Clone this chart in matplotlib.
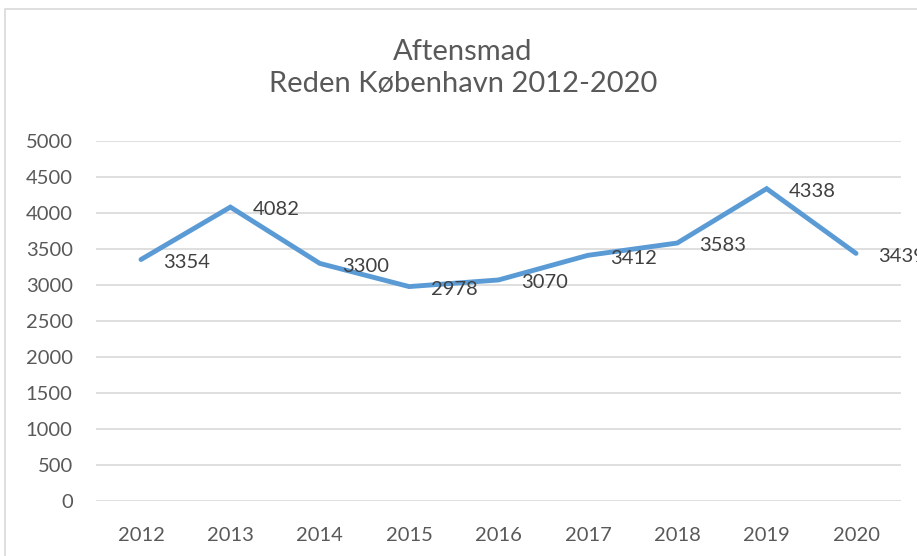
import matplotlib
matplotlib.use("Agg")
import matplotlib.pyplot as plt
from matplotlib.patches import Rectangle

years = ["2012", "2013", "2014", "2015", "2016", "2017", "2018", "2019", "2020"]
meals = [3354, 4082, 3300, 2978, 3070, 3412, 3583, 4338, 3439]
yticks = [0, 500, 1000, 1500, 2000, 2500, 3000, 3500, 4000, 4500, 5000]
title = "Aftensmad\nReden København 2012-2020"

LINE, GRID, TXT = "#5b9bd5", "#d9d9d9", "#595959"
plt.rcParams["font.family"] = ["Lato", "DejaVu Sans"]

W, H = 917, 556
fig = plt.figure(figsize=(W / 100, H / 100), dpi=100)
# chart frame, cut off on the right and bottom like the screenshot
fig.patches.append(Rectangle((5 / W, -0.1), 1.2, 1 - 9 / H + 0.1, transform=fig.transFigure,
                             fill=False, ec=GRID, lw=1.2))

ax = fig.add_axes([96.3 / W, 1 - 501 / H, 804.4 / W, 360 / H])
x = list(range(len(years)))
ax.plot(x, meals, color=LINE, lw=3.5, solid_capstyle="round", solid_joinstyle="miter", zorder=3)
for xi, v in zip(x, meals):
    ax.annotate(str(v), (xi, v), xytext=(16, -2), textcoords="offset points",
                ha="left", va="center", fontsize=14.5, color="#404040", zorder=4,
                annotation_clip=False)

ax.set_xlim(-0.5, len(years) - 0.5)
ax.set_ylim(0, 5000)
ax.set_yticks(yticks)
ax.set_xticks(x, years)
ax.grid(axis="y", color=GRID, lw=1.2)
ax.set_axisbelow(True)
for s in ax.spines.values():
    s.set_visible(False)
ax.tick_params(length=0, labelsize=14.5, labelcolor=TXT)
ax.tick_params(axis="y", pad=17)
ax.tick_params(axis="x", pad=19)

fig.text(0.505, 1 - 68 / H, title, ha="center", va="center", fontsize=21, color=TXT,
         linespacing=1.3)

fig.savefig("out.png", dpi=100)
